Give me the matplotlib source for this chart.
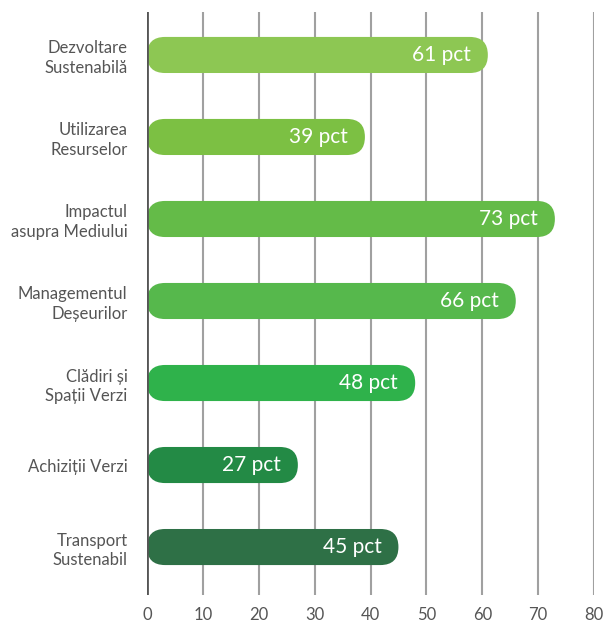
import matplotlib
matplotlib.use("Agg")
import matplotlib.pyplot as plt
from matplotlib.patches import FancyBboxPatch

categories = ["Dezvoltare\nSustenabilă", "Utilizarea\nResurselor", "Impactul\nasupra Mediului",
              "Managementul\nDeșeurilor", "Clădiri și\nSpații Verzi", "Achiziții Verzi",
              "Transport\nSustenabil"]
values = [61, 39, 73, 66, 48, 27, 45]
colors = ["#8DC753", "#7CC043", "#64BB48", "#56B84C", "#2FB24B", "#238A45", "#2E7046"]
xticks = [0, 10, 20, 30, 40, 50, 60, 70, 80]

plt.rcParams['font.family'] = ['Lato', 'DejaVu Sans']

W, H = 606, 626
fig = plt.figure(figsize=(W/100, H/100), dpi=100)
ax = fig.add_axes([147/W, 1-595/H, (594-147)/W, (595-12)/H])
ax.set_xlim(0, 80)
ax.set_ylim(6.585, -0.524)

# pixel scale for rounded corners
xpx = (594-147)/80.0
ypx = (595-12)/(6.585+0.524)
bar_h = 0.44
r_px = bar_h*ypx/2
rx = r_px/xpx
ry = r_px/ypx

for i, (v, c) in enumerate(zip(values, colors)):
    p = FancyBboxPatch((0, i-bar_h/2), v, bar_h,
                       boxstyle=f"round,pad=0,rounding_size={rx}",
                       mutation_aspect=ry/rx, facecolor=c, edgecolor='none', zorder=3)
    ax.add_patch(p)
    ax.text(v - 17/xpx, i, f"{v} pct", ha='right', va='center', color='white',
            fontsize=15, zorder=4)

ax.set_xticks(xticks)
ax.set_xticklabels([str(t) for t in xticks])
ax.set_yticks(range(len(categories)))
ax.set_yticklabels(categories, linespacing=1.3)
for sp in ax.spines.values():
    sp.set_visible(False)
ax.grid(axis='x', color='#a0a0a0', linewidth=1.5, zorder=0)
ax.axvline(0, color='#555555', linewidth=2, zorder=5)
ax.tick_params(axis='y', length=0, pad=14, labelsize=12, labelcolor='#555555')
ax.tick_params(axis='x', length=0, pad=9, labelsize=12, labelcolor='#555555')

fig.savefig("out.png", dpi=100)
